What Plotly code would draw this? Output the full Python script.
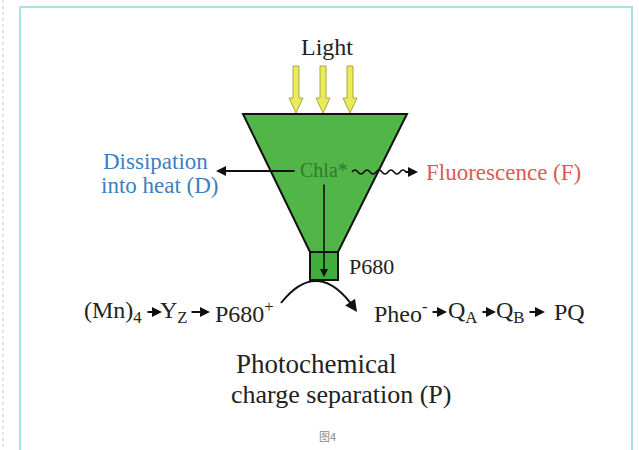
import plotly.graph_objects as go

# diagram labels
light_label = "Light"
center_label = "Chla*"
heat_label = ["Dissipation", "into heat (D)"]
fluor_label = "Fluorescence (F)"
p680_label = "P680"
donor_chain = ["(Mn)<sub>4</sub>", "Y<sub>Z</sub>", "P680<sup>+</sup>"]
acceptor_chain = ["Pheo<sup>-</sup>", "Q<sub>A</sub>", "Q<sub>B</sub>", "PQ"]
bottom_label = ["Photochemical", "charge separation (P)"]
caption = "图4"

# geometry of the diagram (pixel coords, y downward)
light_x = [296, 323, 350]
funnel_x = [243, 407, 338, 310]
funnel_y = [114, 114, 252, 252]
donor_x = [113, 174, 244]
donor_arrows = [(146, 162), (190, 210)]
acceptor_x = [401, 462, 510, 569]
acceptor_arrows = [(431, 447), (481, 496), (528, 545)]
row_y = 312

serif = "Times New Roman, Liberation Serif, serif"
GREEN = "#52b548"

shapes = []
annotations = []

# outer frame
shapes.append(dict(type="rect", x0=20, y0=7, x1=632, y1=470,
                   line=dict(color="#a6e3e6", width=2), fillcolor="white", layer="below"))
shapes.append(dict(type="line", x0=3, y0=0, x1=3, y1=460,
                   line=dict(color="#c8c8c8", width=1, dash="dot")))

# light arrows
for x in light_x:
    path = (f"M {x-3} 66 L {x+3} 66 L {x+3} 98 L {x+7} 98 L {x} 113 "
            f"L {x-7} 98 L {x-3} 98 Z")
    shapes.append(dict(type="path", path=path, fillcolor="#eaea5c",
                       line=dict(color="#a8a83a", width=1)))

# funnel
fpath = "M " + " L ".join(f"{x} {y}" for x, y in zip(funnel_x, funnel_y)) + " Z"
shapes.append(dict(type="path", path=fpath, fillcolor=GREEN,
                   line=dict(color="#111", width=2)))
shapes.append(dict(type="rect", x0=310, y0=252, x1=338, y1=280, fillcolor="#3fae3a",
                   line=dict(color="#111", width=2)))

# wavy fluorescence line
wave = "M 352 172"
xw = 352
up = True
while xw < 404:
    wave += f" Q {xw+3} {168 if up else 176} {xw+6} 172"
    xw += 6
    up = not up
shapes.append(dict(type="path", path=wave, line=dict(color="#111", width=1.6)))

# curved transfer arrow
shapes.append(dict(type="path", path="M 281 303 Q 318 256 355 309",
                   line=dict(color="#111", width=2)))


def arrow(x0, y0, x1, y1, width=2, size=1.0, head=2):
    annotations.append(dict(x=x1, y=y1, ax=x0, ay=y0, xref="x", yref="y",
                            axref="x", ayref="y", text="", showarrow=True,
                            arrowhead=head, arrowsize=size, arrowwidth=width,
                            arrowcolor="#111"))


def label(x, y, text, size=23, color="#222", family=serif, anchor="center"):
    annotations.append(dict(x=x, y=y, xref="x", yref="y", text=text, showarrow=False,
                            xanchor=anchor, yanchor="middle",
                            font=dict(family=family, size=size, color=color)))


arrow(296, 171, 216, 171)
arrow(404, 172, 418, 172)
arrow(324, 183, 324, 277, width=1.6)
arrow(350, 302, 357, 312, width=2, size=1.2)
for a, b in donor_arrows + acceptor_arrows:
    arrow(a, row_y, b, row_y, width=2, size=1.0)

label(327, 47, light_label, size=24)
label(324, 170, center_label, size=20, color="#2f7a2f")
label(155, 161, heat_label[0], size=23, color="#3b7fc2")
label(160, 185, heat_label[1], size=23, color="#3b7fc2")
label(424, 172, fluor_label, size=23, color="#dc5a55", anchor="left")
label(347, 266, p680_label, size=22, anchor="left")
for x, t in zip(donor_x, donor_chain):
    label(x, row_y, t, size=24)
for x, t in zip(acceptor_x, acceptor_chain):
    label(x, row_y, t, size=24)
label(316, 364, bottom_label[0], size=27)
label(341, 394, bottom_label[1], size=26)
label(327, 436, caption, size=11, color="#8a8a8a", family="Noto Sans CJK SC")

fig = go.Figure()
fig.update_layout(
    width=639, height=450,
    margin=dict(l=0, r=0, t=0, b=0),
    paper_bgcolor="white", plot_bgcolor="white",
    xaxis=dict(range=[0, 639], visible=False, fixedrange=True),
    yaxis=dict(range=[450, 0], visible=False, fixedrange=True),
    shapes=shapes, annotations=annotations, showlegend=False,
)
# drop the page's default body margin so the figure fills the window
fig.write_html("out.html", config={"displayModeBar": False},
               post_script="document.body.style.margin='0';"
                           "document.body.style.overflow='hidden';")
